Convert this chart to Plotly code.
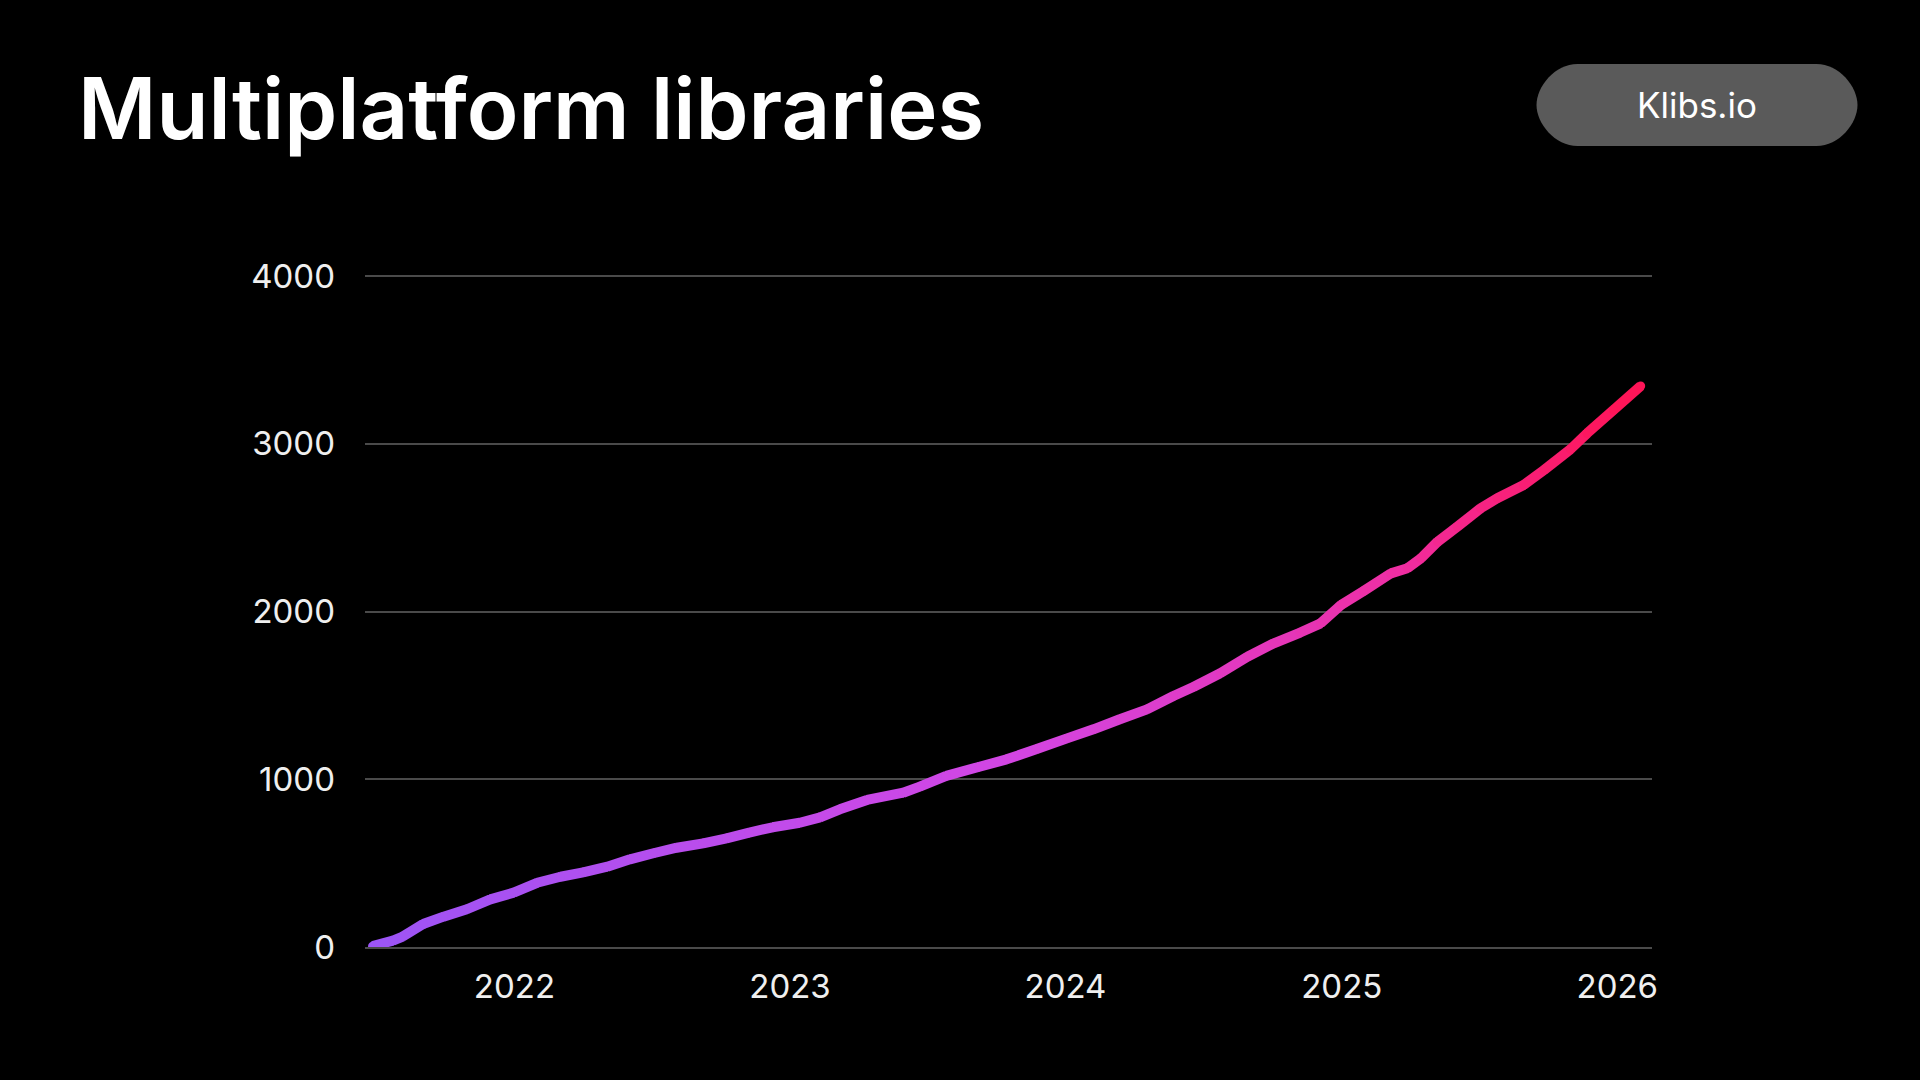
import plotly.graph_objects as go

# cumulative count of multiplatform libraries
dates = [
    '2021-06-27', '2021-07-24', '2021-08-06', '2021-09-02', '2021-09-29', '2021-10-30',
    '2021-11-30', '2021-12-31', '2022-01-31', '2022-03-03', '2022-04-02', '2022-05-04',
    '2022-06-03', '2022-07-04', '2022-08-04', '2022-09-08', '2022-10-09', '2022-11-08',
    '2022-12-09', '2023-01-14', '2023-02-10', '2023-03-08', '2023-04-13', '2023-05-31',
    '2023-06-22', '2023-07-27', '2023-09-09', '2023-10-15', '2023-11-23', '2024-01-03',
    '2024-02-07', '2024-03-13', '2024-04-18', '2024-05-23', '2024-06-19', '2024-07-24',
    '2024-08-29', '2024-10-03', '2024-11-07', '2024-12-04', '2024-12-31', '2025-01-30',
    '2025-03-07', '2025-03-29', '2025-04-16', '2025-05-08', '2025-06-03', '2025-07-04',
    '2025-07-26', '2025-08-30', '2025-09-26', '2025-10-31', '2025-11-22', '2025-12-27',
    '2026-02-01',
]
libraries = [
    5, 38, 62, 137, 181, 225,
    284, 324, 383, 419, 445, 479,
    523, 559, 592, 618, 648, 682,
    714, 741, 773, 821, 877, 920,
    956, 1020, 1075, 1119, 1179, 1244,
    1298, 1358, 1417, 1497, 1552, 1632,
    1731, 1811, 1875, 1930, 2039, 2123,
    2228, 2258, 2318, 2417, 2506, 2616,
    2676, 2755, 2844, 2968, 3063, 3202,
    3345,
]
y_ticks = [0, 1000, 2000, 3000, 4000]

title = 'Multiplatform libraries'
badge = 'Klibs.io'

# gradient stops along the line: purple -> magenta -> pink-red
stops = [(0.0, (155, 85, 246)), (0.5, (210, 70, 228)), (0.8, (240, 45, 160)), (1.0, (255, 20, 85))]


def grad_color(t):
    for (t0, c0), (t1, c1) in zip(stops[:-1], stops[1:]):
        if t <= t1:
            f = (t - t0) / (t1 - t0)
            r, g, b = [round(a + (b_ - a) * f) for a, b_ in zip(c0, c1)]
            return f'rgb({r},{g},{b})'
    r, g, b = stops[-1][1]
    return f'rgb({r},{g},{b})'


FONT = 'Inter'
LW = 10
fig = go.Figure()

# one short segment per pair of points, coloured along the gradient;
# markers at the ends round off the joints
n = len(dates)
for i in range(n - 1):
    col = grad_color((i + 0.5) / (n - 1))
    fig.add_trace(go.Scatter(
        x=dates[i:i + 2], y=libraries[i:i + 2],
        mode='lines+markers',
        line=dict(color=col, width=LW),
        marker=dict(color=col, size=LW - 1, line=dict(width=0)),
        showlegend=False, hoverinfo='skip',
    ))

fig.update_xaxes(
    type='date',
    range=['2021-06-17', '2026-02-16'],
    tick0='2022-01-01', dtick='M12', tickformat='%Y',
    showgrid=False, zeroline=False,
    showline=True, linecolor='#4a4a4a', linewidth=2,
    ticks='', ticklabelstandoff=9,
    tickfont=dict(family=FONT, size=33, color='#efefef'),
)
fig.update_yaxes(
    range=[0, 4013],
    tickvals=y_ticks,
    showgrid=True, gridcolor='#4a4a4a', gridwidth=1.5,
    zeroline=False, showline=False,
    ticks='', ticklabelstandoff=29,
    tickfont=dict(family=FONT, size=33, color='#efefef'),
)

# plot area in pixels: x 365..1652, y 274..947
W, H = 1287, 673
TOP = 274

# pill badge top right (pixel-sized path anchored in paper coords)
bx = (1697 - 365) / W
by = (947 - 105) / H
hw, hh, k = 160.5, 41, 22.6
cx = hw - hh
path = (f'M {-cx},{-hh} L {cx},{-hh} '
        f'C {cx + k},{-hh} {hw},{-hh + k} {hw},0 '
        f'C {hw},{hh - k} {cx + k},{hh} {cx},{hh} '
        f'L {-cx},{hh} '
        f'C {-cx - k},{hh} {-hw},{hh - k} {-hw},0 '
        f'C {-hw},{-hh + k} {-cx - k},{-hh} {-cx},{-hh} Z')
fig.add_shape(
    type='path', path=path,
    xref='paper', yref='paper',
    xsizemode='pixel', ysizemode='pixel',
    xanchor=bx, yanchor=by,
    fillcolor='#5a5a5a', line=dict(width=0), layer='above',
)
fig.add_annotation(
    x=bx, y=by, xref='paper', yref='paper',
    text=badge, showarrow=False,
    xanchor='center', yanchor='middle',
    font=dict(family=FONT, size=35, color='white'),
)

fig.add_annotation(
    x=(76 - 365) / W, y=(947 - 108) / H, xref='paper', yref='paper',
    text=title, showarrow=False,
    xanchor='left', yanchor='middle',
    font=dict(family=FONT, size=85, color='white', weight=600),
)

fig.update_layout(
    width=1920, height=1080,
    margin=dict(l=365, r=268, t=TOP, b=133),
    paper_bgcolor='black', plot_bgcolor='black',
    showlegend=False,
)

fig.write_html('out.html', config={'displayModeBar': False}, post_script=[
    "document.body.style.margin='0px'; document.body.style.background='black';"
])
